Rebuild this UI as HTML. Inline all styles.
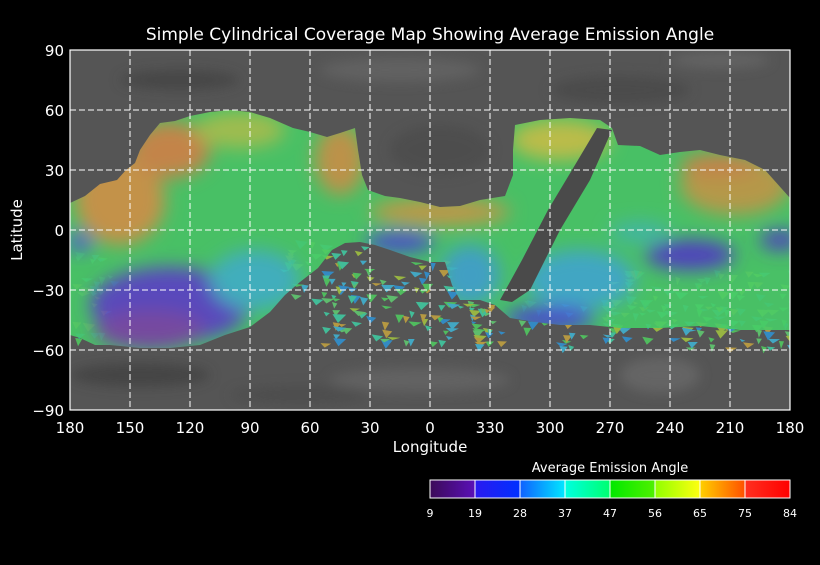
<!DOCTYPE html>
<html><head><meta charset="utf-8"><style>
html,body{margin:0;padding:0;background:#000;}
body{width:820px;height:560px;overflow:hidden;font-family:"Liberation Sans","DejaVu Sans",sans-serif;}
svg text{fill:#fff;font-family:"DejaVu Sans","Liberation Sans",sans-serif;}
</style></head><body>
<svg id="chart" width="820" height="560" viewBox="0 0 820 560" xmlns="http://www.w3.org/2000/svg">
<defs>
  <filter id="blur12" x="-50%" y="-50%" width="200%" height="200%"><feGaussianBlur stdDeviation="9"/></filter>
  <filter id="blur6" x="-50%" y="-50%" width="200%" height="200%"><feGaussianBlur stdDeviation="6"/></filter>
  <clipPath id="plotClip"><rect x="70" y="50" width="720" height="360"/></clipPath>
  <clipPath id="covClip">
    <polygon points="70,203 85,196 100,184 117,180 126,170 135,163 140,150 150,135 160,123 175,121 190,116 210,112 230,110 250,112 270,118 293,128 310,132 327,137 340,133 355,128 358,150 362,175 368,190 385,196 400,198 420,202 440,207 460,206 480,200 505,196 513,175 513,150 515,125 540,120 570,118 600,120 612,128 618,145 640,146 660,155 680,152 700,150 720,155 745,160 765,170 790,198 790,330 740,330 700,326 660,328 620,328 590,325 560,325 535,322 510,318 495,305 480,300 460,300 452,285 445,262 430,262 410,257 390,250 375,245 360,242 345,243 332,250 318,268 300,282 285,295 270,312 250,327 225,335 200,345 170,348 140,348 110,345 95,345 80,338 70,335"/>
  </clipPath>
  <linearGradient id="cbGrad" x1="0" x2="1" y1="0" y2="0">
    <stop offset="0" stop-color="#3c0a58"/><stop offset="0.125" stop-color="#5a10b8"/>
    <stop offset="0.125" stop-color="#2a1af0"/><stop offset="0.25" stop-color="#0030ff"/>
    <stop offset="0.25" stop-color="#1060ff"/><stop offset="0.375" stop-color="#00e8ff"/>
    <stop offset="0.375" stop-color="#00ffe0"/><stop offset="0.5" stop-color="#00ff70"/>
    <stop offset="0.5" stop-color="#00e800"/><stop offset="0.625" stop-color="#50f000"/>
    <stop offset="0.625" stop-color="#90ff00"/><stop offset="0.75" stop-color="#ffff10"/>
    <stop offset="0.75" stop-color="#ffd000"/><stop offset="0.875" stop-color="#ff5000"/>
    <stop offset="0.875" stop-color="#ff3020"/><stop offset="1" stop-color="#ff0000"/>
  </linearGradient>
</defs>

<text x="430" y="40" font-size="17" text-anchor="middle">Simple Cylindrical Coverage Map Showing Average Emission Angle</text>

<g id="map" clip-path="url(#plotClip)">
  <rect x="70" y="50" width="720" height="360" fill="#555"/>
  <g filter="url(#blur6)" opacity="0.6">
    <ellipse cx="180" cy="80" rx="60" ry="10" fill="#3c3c3c"/>
    <ellipse cx="400" cy="70" rx="80" ry="12" fill="#6a6a6a"/>
    <ellipse cx="620" cy="90" rx="70" ry="14" fill="#454545"/>
    <ellipse cx="720" cy="60" rx="50" ry="8" fill="#6e6e6e"/>
    <ellipse cx="140" cy="375" rx="70" ry="12" fill="#3a3a3a"/>
    <ellipse cx="420" cy="380" rx="90" ry="12" fill="#6c6c6c"/>
    <ellipse cx="660" cy="375" rx="40" ry="18" fill="#707070"/>
    <ellipse cx="300" cy="395" rx="70" ry="8" fill="#474747"/>
    <ellipse cx="440" cy="150" rx="50" ry="25" fill="#4a4a4a"/>
  </g>
  <g id="scatter" opacity="0.9"></g>
  <g clip-path="url(#covClip)" opacity="0.9">
    <rect x="70" y="100" width="720" height="260" fill="#48cc68"/>
    <g filter="url(#blur12)">
      <ellipse cx="120" cy="200" rx="45" ry="45" fill="#d09a48"/>
      <ellipse cx="170" cy="150" rx="40" ry="28" fill="#d08a48"/>
      <ellipse cx="240" cy="130" rx="45" ry="18" fill="#a8c850"/>
      <ellipse cx="340" cy="160" rx="25" ry="35" fill="#c89a48"/>
      <ellipse cx="80" cy="242" rx="12" ry="10" fill="#5060d8"/>
      <ellipse cx="170" cy="305" rx="80" ry="38" fill="#5a48c8"/>
      <ellipse cx="150" cy="330" rx="55" ry="20" fill="#7a48a8"/>
      <ellipse cx="255" cy="280" rx="45" ry="30" fill="#40b8c8"/>
      <ellipse cx="440" cy="212" rx="70" ry="14" fill="#c8a048"/>
      <ellipse cx="400" cy="242" rx="35" ry="10" fill="#4848d8"/>
      <ellipse cx="470" cy="275" rx="30" ry="30" fill="#40a8d0"/>
      <ellipse cx="560" cy="140" rx="50" ry="20" fill="#c8c848"/>
      <ellipse cx="580" cy="280" rx="55" ry="30" fill="#40b0d0"/>
      <ellipse cx="550" cy="318" rx="45" ry="12" fill="#4848d8"/>
      <ellipse cx="735" cy="185" rx="55" ry="30" fill="#c0a048"/>
      <ellipse cx="720" cy="165" rx="40" ry="12" fill="#d08848"/>
      <ellipse cx="690" cy="255" rx="45" ry="15" fill="#5040c8"/>
      <ellipse cx="780" cy="240" rx="20" ry="10" fill="#5040c8"/>
      <ellipse cx="640" cy="232" rx="30" ry="10" fill="#40c0b0"/>
    </g>
  </g>
  <polygon points="597,128 612,130 590,180 560,230 530,290 512,302 500,300 522,260 548,210 575,165" fill="#4a4a4a"/>
  <g id="grid" stroke="#fff" stroke-width="1" stroke-dasharray="6,3"></g>
</g>
<rect x="70" y="50" width="720" height="360" fill="none" stroke="#fff" stroke-width="1.2"/>
<g id="yticks"></g>
<g id="xticks"></g>
<text x="430" y="452" font-size="15" text-anchor="middle">Longitude</text>
<text x="22" y="230" font-size="15" text-anchor="middle" transform="rotate(-90 22 230)">Latitude</text>

<text x="610" y="472" font-size="13" text-anchor="middle">Average Emission Angle</text>
<rect x="430" y="480" width="360" height="18" fill="url(#cbGrad)" stroke="#fff" stroke-width="1"/>
<g id="cbticks"></g>
</svg>
<script>
const latTicks = [90, 60, 30, 0, -30, -60, -90];
const lonTicks = [180, 150, 120, 90, 60, 30, 0, 330, 300, 270, 240, 210, 180];
const cbLabels = [9, 19, 28, 37, 47, 56, 65, 75, 84];
const NS = 'http://www.w3.org/2000/svg';
const X0 = 70, X1 = 790, Y0 = 50, Y1 = 410;
function yScale(lat){ return Y0 + (90 - lat) / 180 * (Y1 - Y0); }
function xIndex(i){ return X0 + i / (lonTicks.length - 1) * (X1 - X0); }
function mk(tag, attrs, parent){ const e = document.createElementNS(NS, tag); for (const k in attrs) e.setAttribute(k, attrs[k]); parent.appendChild(e); return e; }
const grid = document.getElementById('grid');
const yt = document.getElementById('yticks');
latTicks.forEach(v => {
  const y = yScale(v);
  if (v !== 90 && v !== -90) {
    const l = mk('line', {x1: X0, x2: X1, y1: y, y2: y}, grid);
    
    
  }
  const t = mk('text', {x: 64, y: y + 6, 'font-size': 15, 'text-anchor': 'end'}, yt);
  t.textContent = v < 0 ? '\u2212' + Math.abs(v) : String(v);
  
  
});
const xt = document.getElementById('xticks');
lonTicks.forEach((v, i) => {
  const x = xIndex(i);
  if (i > 0 && i < lonTicks.length - 1) {
    const l = mk('line', {x1: x, x2: x, y1: Y0, y2: Y1}, grid);
    
    
  }
  const t = mk('text', {x: x, y: 433, 'font-size': 15, 'text-anchor': 'middle'}, xt);
  t.textContent = String(v);
  
  
});
const cb = document.getElementById('cbticks');
cbLabels.forEach((v, i) => {
  const x = 430 + i / (cbLabels.length - 1) * 360;
  if (i > 0 && i < cbLabels.length - 1) {
    const l = mk('line', {x1: x, x2: x, y1: 480, y2: 498, stroke: '#fff', 'stroke-width': 1}, cb);
    
    
  }
  const t = mk('text', {x: x, y: 517, 'font-size': 11, 'text-anchor': 'middle'}, cb);
  t.textContent = String(v);
  
  
});
// decorative scattered coverage triangles (texture)
const sc = document.getElementById('scatter');
const pal = ['#40c8a0', '#50c860', '#40b0d0', '#a0c040', '#60c870', '#3090d0', '#c0a040'];
let s = 7;
function rnd(){ s = (s * 9301 + 49297) % 233280; return s / 233280; }
const zones = [[72,112,250,345],[280,370,240,300],[320,450,260,345],[430,790,300,348],[600,790,270,330]];
zones.forEach(z => {
  const n = Math.round((z[1]-z[0])*(z[3]-z[2])/140);
  for (let k = 0; k < n; k++) {
    const x = z[0] + rnd()*(z[1]-z[0]), y = z[2] + rnd()*(z[3]-z[2]);
    const w = 5 + rnd()*9, h = 3 + rnd()*6;
    const p = mk('polygon', {points: `${x},${y} ${x+w},${y+rnd()*2} ${x+w*0.4},${y+h}`, fill: pal[Math.floor(rnd()*pal.length)]}, sc);
    
    
  }
});
</script>
</body></html>
